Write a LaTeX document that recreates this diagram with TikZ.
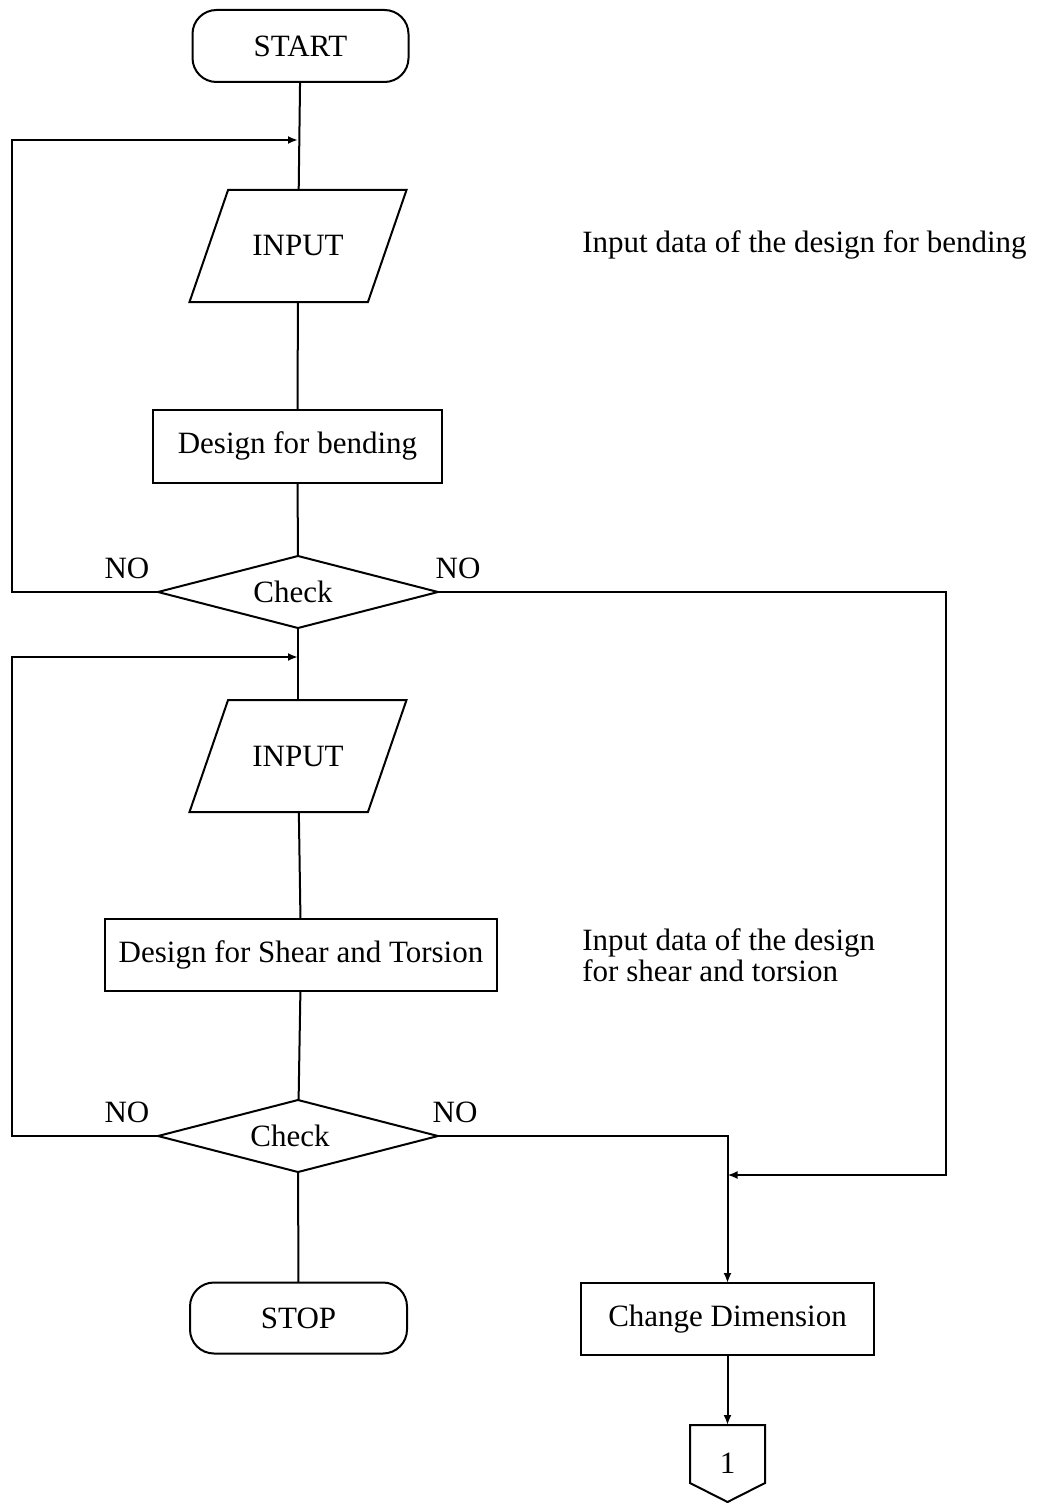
\documentclass[tikz,border=0pt]{standalone}
\usepackage{fontspec}
\setmainfont{Liberation Serif}
\usetikzlibrary{shapes.geometric,arrows.meta}

\tikzset{
  base/.style={draw, line width=1pt, inner sep=0pt, outer sep=0pt,
    font=\fontsize{15.5}{19}\selectfont},
  terminal/.style={base, rectangle, rounded corners=12pt,
    minimum width=108pt, minimum height=36pt},
  io/.style={base, trapezium, trapezium left angle=71, trapezium right angle=109,
    trapezium stretches body=true, text height=10pt, text depth=0pt,
    inner xsep=0pt, inner ysep=23pt, minimum width=108.5pt},
  process/.style={base, rectangle, minimum height=36.5pt},
  decision/.style={base, diamond, aspect=4, minimum width=140pt, minimum height=36pt},
  label/.style={inner sep=0pt, font=\fontsize{15.5}{19}\selectfont},
  flow/.style={line width=1pt},
  arr/.style={flow, -{Latex[length=5pt,width=4pt]}}
}

\begin{document}
\begin{tikzpicture}[x=0.5pt, y=-0.5pt]
  \useasboundingbox (0,0) rectangle (1053,1503);

  % main column
  \node[terminal] (start) at (300.5,46) {START};
  \node[io] (in1) at (298,246) {INPUT};
  \node[process, minimum width=144.5pt] (bend) at (297.5,446) {Design for bending};
  \node[decision] (chk1) at (298,592) {\hspace*{-5pt}Check};
  \node[io] (in2) at (298,756) {INPUT};
  \node[process, minimum width=196pt, minimum height=36pt] (shear) at (301,955) {Design for Shear and Torsion};
  \node[decision] (chk2) at (298,1136) {\hspace*{-8pt}Check};
  \node[terminal, minimum width=108.5pt, minimum height=35.5pt] (stop) at (298.5,1318) {STOP};

  % right column
  \node[process, minimum width=146.5pt, minimum height=36pt] (chg) at (727.5,1319) {Change Dimension};
  \node[label] (one) at (727.5,1463) {1};
  \draw[flow] (690,1425) -- (765,1425) -- (765,1483) -- (727.5,1502) -- (690,1483) -- cycle;
  \coordinate (onetop) at (727.5,1425);

  % side notes
  \node[label, anchor=west] (note1) at (582,245) {Input data of the design for bending};
  \node[label, anchor=west, align=left, font=\fontsize{15.5}{15.5}\selectfont] (note2) at (582,955) {Input data of the design\\for shear and torsion};

  % branch labels
  \node[label] (no1l) at (127,568) {NO};
  \node[label] (no1r) at (458,568) {NO};
  \node[label] (no2l) at (127,1112) {NO};
  \node[label] (no2r) at (455,1112) {NO};

  % junction points
  \coordinate (j1) at (298,140);
  \coordinate (j2) at (298,657);
  \coordinate (c1) at (12,140);
  \coordinate (c2) at (12,657);
  \coordinate (c3) at (946,1175);
  \coordinate (j3) at (727.5,1175);

  % straight flow
  \draw[flow] (start) -- (in1);
  \draw[flow] (in1) -- (bend);
  \draw[flow] (bend) -- (chk1);
  \draw[flow] (chk1) -- (in2);
  \draw[flow] (in2) -- (shear);
  \draw[flow] (shear) -- (chk2);
  \draw[flow] (chk2) -- (stop);
  \draw[arr] (chg) -- (onetop);

  % loops back
  \draw[arr] (chk1.west) -| (c1) -- (j1);
  \draw[arr] (chk2.west) -| (c2) -- (j2);
  \draw[arr] (chk1.east) -| (c3) -- (j3);
  \draw[arr] (chk2.east) -| (chg.north);
\end{tikzpicture}
\end{document}
